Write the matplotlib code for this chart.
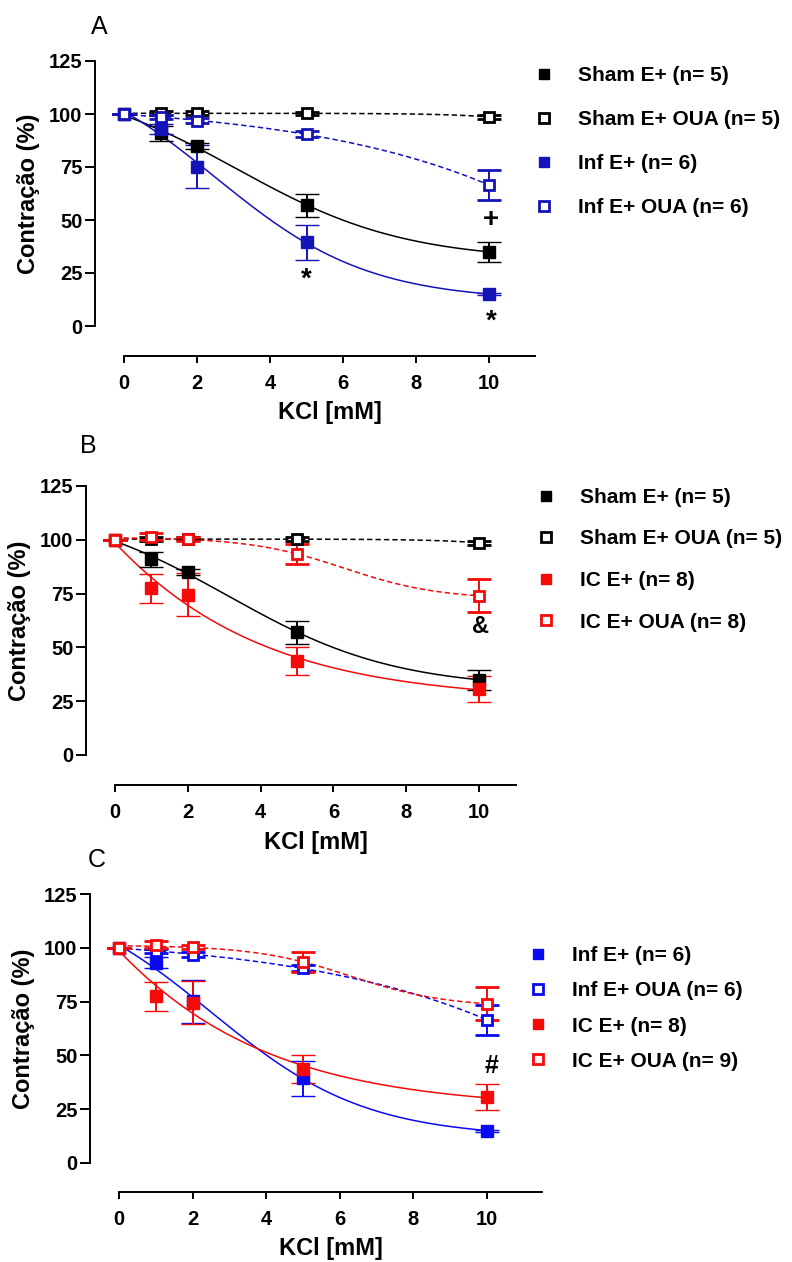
import numpy as np
import matplotlib
matplotlib.use("Agg")
import matplotlib.pyplot as plt
from matplotlib.lines import Line2D

plt.rcParams['font.family'] = ['Liberation Sans', 'DejaVu Sans']

W, H = 792, 1262

# KCl concentrations (mM)
kcl = [0, 1, 2, 5, 10]

# mean contraction (%) and SEM for each group
sham = [100, 91, 85, 57, 35]
sham_err = [0, 3.5, 1.5, 5.5, 4.7]
sham_oua = [100, 100.5, 100.5, 100.3, 98.6]
sham_oua_err = [0, 1, 0.8, 0.8, 0.8]
inf = [100, 93, 75.2, 39.4, 15]
inf_err = [0, 2.5, 10, 8.2, 0.5]
inf_oua = [100, 98.5, 96.8, 90.5, 66.5]
inf_oua_err = [0, 1, 1.2, 1.5, 7]
ic = [100, 77.5, 74.4, 43.6, 30.7]
ic_err = [0, 6.7, 10, 6.4, 6]
ic_oua = [100, 101.5, 100.3, 93.4, 74]
ic_oua_err = [0, 1.5, 1, 4.6, 7.6]

xticks = [0, 2, 4, 6, 8, 10]
yticks = [0, 25, 50, 75, 100, 125]

BLACK = '#000000'
BLUE_A = '#1313b8'
BLUE_C = '#0a0af0'
RED = '#f50a0a'


def fit_curve(x, y):
    # Boltzmann sigmoid fit: grid over (x50, slope), top/bottom by least squares
    x = np.asarray(x, float)
    y = np.asarray(y, float)
    x50 = np.linspace(-15, 30, 451)[:, None, None]
    s = np.linspace(1.3, 15, 138)[None, :, None]
    g = 1 / (1 + np.exp((x[None, None, :] - x50) / s))
    # y = bottom*(1-g) + top*g
    a = 1 - g
    saa = (a * a).sum(-1); sgg = (g * g).sum(-1); sag = (a * g).sum(-1)
    say = (a * y).sum(-1); sgy = (g * y).sum(-1)
    det = saa * sgg - sag ** 2
    det = np.where(np.abs(det) < 1e-12, np.nan, det)
    bot = (say * sgg - sgy * sag) / det
    top = (sgy * saa - say * sag) / det
    pred = bot[..., None] * a + top[..., None] * g
    sse = ((pred - y) ** 2).sum(-1)
    sse = np.where(np.isnan(sse), np.inf, sse)
    i, j = np.unravel_index(np.argmin(sse), sse.shape)
    xs = np.linspace(0, 10, 200)
    gg = 1 / (1 + np.exp((xs - x50.ravel()[i]) / s.ravel()[j]))
    return xs, bot[i, j] * (1 - gg) + top[i, j] * gg


def make_axes(fig, left, right, ytop, xaxis_y, x0, x10, y0):
    ax = fig.add_axes([left / W, 1 - xaxis_y / H, (right - left) / W, (xaxis_y - ytop) / H])
    sx = (x10 - x0) / 10.0
    sy = (y0 - ytop) / 125.0
    ax.set_xlim((left - x0) / sx, (right - x0) / sx)
    ax.set_ylim(-(xaxis_y - y0) / sy, 125)
    for s in ['top', 'right']:
        ax.spines[s].set_visible(False)
    ax.spines['left'].set_bounds(0, 125)
    ax.spines['bottom'].set_bounds(0, (right - x0) / sx)
    for s in ['left', 'bottom']:
        ax.spines[s].set_linewidth(1.4)
    ax.set_xticks(xticks)
    ax.set_yticks(yticks)
    ax.tick_params(axis='y', length=7, width=1.4, pad=2, labelsize=14.5)
    ax.tick_params(axis='x', length=5, width=1.4, pad=8, labelsize=14.5)
    for lab in ax.get_xticklabels() + ax.get_yticklabels():
        lab.set_fontweight('bold')
    ax.set_xlabel('KCl [mM]', fontsize=17, fontweight='bold')
    ax.set_ylabel('Contração (%)', fontsize=17, fontweight='bold')
    # center the labels on the drawn spines, as in the original
    ax.xaxis.set_label_coords(((x0 + right) / 2 - left) / (right - left),
                              -(57 / (xaxis_y - ytop)))
    ax.yaxis.set_label_coords(-(66 / (right - left)),
                              1 - ((y0 - ytop) / 2) / (xaxis_y - ytop))
    ax.xaxis.label.set_va('center')
    ax.yaxis.label.set_va('center')
    ax.patch.set_alpha(0)
    return ax


def series(ax, y, err, color, filled, dashed):
    xs, ys = fit_curve(kcl, y)
    ax.plot(xs, ys, color=color, lw=1.1, ls=(0, (3.5, 2)) if dashed else '-', zorder=2)
    ax.errorbar(kcl, y, yerr=err, fmt='s', color=color, ecolor=color,
                ms=8 if filled else 7, mfc=color if filled else 'white',
                mec=color, mew=2 if not filled else 1, elinewidth=1.4,
                capsize=8.5, capthick=1.6, zorder=3, clip_on=False)


def legend(ax, items, anchor, spacing):
    handles = []
    labels = []
    for lab, color, filled in items:
        handles.append(Line2D([], [], ls='none', marker='s', color=color,
                              ms=7 if filled else 6.5,
                              mfc=color if filled else 'white', mec=color,
                              mew=2 if not filled else 1))
        labels.append(lab)
    leg = ax.legend(handles, labels, loc='upper left', bbox_to_anchor=anchor,
                    bbox_transform=ax.figure.transFigure, frameon=False,
                    handlelength=1.0, handletextpad=1.1, labelspacing=spacing,
                    borderaxespad=0, borderpad=0,
                    prop={'weight': 'bold', 'size': 15})
    return leg


fig = plt.figure(figsize=(W / 100, H / 100), dpi=100)

# ---- panel A
axA = make_axes(fig, 95, 535, 61, 356, 124, 489, 326)
series(axA, sham, sham_err, BLACK, True, False)
series(axA, sham_oua, sham_oua_err, BLACK, False, True)
series(axA, inf, inf_err, BLUE_A, True, False)
series(axA, inf_oua, inf_oua_err, BLUE_A, False, True)
axA.text(5, 22, '*', ha='center', va='center', fontsize=20, fontweight='bold')
axA.text(10.05, 2, '*', ha='center', va='center', fontsize=20, fontweight='bold')
axA.text(10.05, 50, '+', ha='center', va='center', fontsize=20, fontweight='bold')
legend(axA, [('Sham E+ (n= 5)', BLACK, True), ('Sham E+ OUA (n= 5)', BLACK, False),
             ('Inf E+ (n= 6)', BLUE_A, True), ('Inf E+ OUA (n= 6)', BLUE_A, False)],
       (534 / W, 1 - 66 / H), 1.2)
fig.text(99 / W, 1 - 27 / H, 'A', fontsize=18, ha='center', va='center')

# ---- panel B
axB = make_axes(fig, 86, 516, 486, 785, 115, 479, 755)
series(axB, sham, sham_err, BLACK, True, False)
series(axB, sham_oua, sham_oua_err, BLACK, False, True)
series(axB, ic, ic_err, RED, True, False)
series(axB, ic_oua, ic_oua_err, RED, False, True)
axB.text(10.05, 59.5, '&', ha='center', va='center', fontsize=17, fontweight='bold')
legend(axB, [('Sham E+ (n= 5)', BLACK, True), ('Sham E+ OUA (n= 5)', BLACK, False),
             ('IC E+ (n= 8)', RED, True), ('IC E+ OUA (n= 8)', RED, False)],
       (536 / W, 1 - 488 / H), 1.08)
fig.text(88 / W, 1 - 446 / H, 'B', fontsize=18, ha='center', va='center')

# ---- panel C
axC = make_axes(fig, 90, 542, 894, 1192, 119, 487, 1163)
series(axC, inf, inf_err, BLUE_C, True, False)
series(axC, inf_oua, inf_oua_err, BLUE_C, False, True)
series(axC, ic, ic_err, RED, True, False)
series(axC, ic_oua, ic_oua_err, RED, False, True)
axC.text(10.12, 45, '#', ha='center', va='center', fontsize=18, fontweight='bold')
legend(axC, [('Inf E+ (n= 6)', BLUE_C, True), ('Inf E+ OUA (n= 6)', BLUE_C, False),
             ('IC E+ (n= 8)', RED, True), ('IC E+ OUA (n= 9)', RED, False)],
       (528 / W, 1 - 946 / H), 0.78)
fig.text(97 / W, 1 - 860 / H, 'C', fontsize=18, ha='center', va='center')

fig.savefig('out.png', dpi=100)
